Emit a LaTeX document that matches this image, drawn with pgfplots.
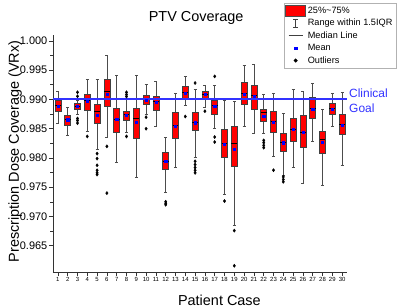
\documentclass[border=0pt]{standalone}
\usepackage{pgfplots}
\pgfplotsset{compat=1.18}
\usepgfplotslibrary{statistics}
\usepackage{fontspec}
\setmainfont{Liberation Sans}
\definecolor{goalblue}{RGB}{50,50,255}
\begin{document}
\begin{tikzpicture}
\begin{axis}[name=ax, scale only axis, width=294bp, height=237bp,
  xmin=0.5, xmax=30.5, ymin=0.9605, ymax=1.001,
  clip=false,
  axis lines=left, axis line style={-, black!80, line width=0.6pt},
  tick align=outside, major tick length=4bp, minor tick length=2.5bp,
  tick style={black!80, line width=0.5pt},
  xtick={1,...,30},
  ytick={0.965,0.970,0.975,0.980,0.985,0.990,0.995,1.000},
  minor y tick num=1,
  scaled y ticks=false,
  /pgf/number format/assume math mode=true,
  yticklabel style={/pgf/number format/fixed, /pgf/number format/fixed zerofill, /pgf/number format/precision=3, font=\fontsize{11}{13}\selectfont, inner sep=1.5bp},
  xticklabel style={font=\fontsize{6}{7}\selectfont, inner sep=1.5bp},
  title={PTV Coverage},
  title style={at={(axis description cs:0.487,1.046)}, anchor=center, font=\fontsize{14.5}{17}\selectfont},
  xlabel={Patient Case},
  xlabel style={at={(axis description cs:0.566,-0.118)}, anchor=center, font=\fontsize{14.5}{17}\selectfont},
  ylabel={Prescription Dose Coverage (VRx)},
  ylabel style={at={(axis description cs:-0.129,0.508)}, anchor=center, font=\fontsize{14.5}{17}\selectfont},
  boxplot/draw direction=y,
  boxplot/box extend=0.6, boxplot/whisker extend=0.3,
  boxplot/every box/.style={draw=black!75, fill=red, line width=0.6pt},
  boxplot/every whisker/.style={draw=black!70, line width=0.6pt},
  boxplot/every median/.style={draw=black, line width=0.8pt},
  bp/.style={black!75, mark=diamond*, mark size=1.6pt, mark options={draw=black, fill=black}, forget plot},
  legend style={at={(axis description cs:1.167,1.135)}, anchor=north east, draw=gray!60, fill=white, font=\fontsize{9.2}{10}\selectfont, inner sep=1.5bp, row sep=0.4bp},
  legend cell align=left,
]
\addlegendimage{legend image code/.code={\draw[fill=red, draw=black!70] (-2bp,-5bp) rectangle (18bp,6bp);}}
\addlegendentry{25\%\textasciitilde75\%}
\addlegendimage{legend image code/.code={\draw[black!75, line width=0.6pt] (8bp,-4bp)--(8bp,4bp) (5.5bp,-4bp)--(10.5bp,-4bp) (5.5bp,4bp)--(10.5bp,4bp);}}
\addlegendentry{Range within 1.5IQR}
\addlegendimage{legend image code/.code={\draw[black!75, line width=0.8pt] (1bp,0)--(15bp,0);}}
\addlegendentry{Median Line}
\addlegendimage{legend image code/.code={\fill[blue] (6.8bp,-1.2bp) rectangle (9.2bp,1.2bp);}}
\addlegendentry{Mean}
\addlegendimage{legend image code/.code={\fill[black] (8bp,-1.8bp)--(9.8bp,0)--(8bp,1.8bp)--(6.2bp,0)--cycle;}}
\addlegendentry{Outliers}

\addplot[bp, boxplot prepared={draw position=1, lower whisker=0.98594, lower quartile=0.98798, median=0.98895, upper quartile=0.98980, upper whisker=0.99138}] coordinates {};
\addplot[bp, boxplot prepared={draw position=2, lower whisker=0.98379, lower quartile=0.98560, median=0.98651, upper quartile=0.98730, upper whisker=0.98866}] coordinates {};
\addplot[bp, boxplot prepared={draw position=3, lower whisker=0.98753, lower quartile=0.98832, median=0.98883, upper quartile=0.98934, upper whisker=0.98980}] coordinates {(3,0.99121) (3,0.99053) (3,0.98673) (3,0.98639) (3,0.98594)};
\addplot[bp, boxplot prepared={draw position=4, lower whisker=0.98447, lower quartile=0.98821, median=0.98980, upper quartile=0.99093, upper whisker=0.99348}] coordinates {(4,0.98367)};
\addplot[bp, boxplot prepared={draw position=5, lower whisker=0.98146, lower quartile=0.98594, median=0.98787, upper quartile=0.98923, upper whisker=0.99348}] coordinates {(5,0.98073) (5,0.97988) (5,0.97874) (5,0.97789) (5,0.97744) (5,0.97715)};
\addplot[bp, boxplot prepared={draw position=6, lower whisker=0.98356, lower quartile=0.98889, median=0.99144, upper quartile=0.99337, upper whisker=0.99745}] coordinates {(6,0.98197) (6,0.97398)};
\addplot[bp, boxplot prepared={draw position=7, lower whisker=0.97919, lower quartile=0.98430, median=0.98662, upper quartile=0.98844, upper whisker=0.99405}] coordinates {};
\addplot[bp, boxplot prepared={draw position=8, lower whisker=0.98441, lower quartile=0.98639, median=0.98736, upper quartile=0.98798, upper whisker=0.98997}] coordinates {(8,0.99121) (8,0.99082) (8,0.99048) (8,0.98367)};
\addplot[bp, boxplot prepared={draw position=9, lower whisker=0.97676, lower quartile=0.98328, median=0.98673, upper quartile=0.98855, upper whisker=0.99416}] coordinates {};
\addplot[bp, boxplot prepared={draw position=10, lower whisker=0.98753, lower quartile=0.98917, median=0.99002, upper quartile=0.99065, upper whisker=0.99263}] coordinates {(10,0.98696) (10,0.98498)};
\addplot[bp, boxplot prepared={draw position=11, lower whisker=0.98537, lower quartile=0.98821, median=0.98968, upper quartile=0.99053, upper whisker=0.99308}] coordinates {};
\addplot[bp, boxplot prepared={draw position=12, lower whisker=0.97404, lower quartile=0.97806, median=0.97948, upper quartile=0.98090, upper whisker=0.98356}] coordinates {(12,0.97251) (12,0.97222) (12,0.97200)};
\addplot[bp, boxplot prepared={draw position=13, lower whisker=0.97834, lower quartile=0.98333, median=0.98554, upper quartile=0.98776, upper whisker=0.99110}] coordinates {};
\addplot[bp, boxplot prepared={draw position=14, lower whisker=0.98895, lower quartile=0.99008, median=0.99121, upper quartile=0.99223, upper whisker=0.99393}] coordinates {(14,0.98707)};
\addplot[bp, boxplot prepared={draw position=15, lower whisker=0.98005, lower quartile=0.98469, median=0.98611, upper quartile=0.98781, upper whisker=0.99167}] coordinates {(15,0.99280) (15,0.97942) (15,0.97885) (15,0.97834) (15,0.97789) (15,0.97744)};
\addplot[bp, boxplot prepared={draw position=16, lower whisker=0.98866, lower quartile=0.99019, median=0.99093, upper quartile=0.99133, upper whisker=0.99246}] coordinates {(16,0.98798)};
\addplot[bp, boxplot prepared={draw position=17, lower whisker=0.98498, lower quartile=0.98753, median=0.98895, upper quartile=0.98991, upper whisker=0.99246}] coordinates {(17,0.99393) (17,0.98356) (17,0.98271)};
\addplot[bp, boxplot prepared={draw position=18, lower whisker=0.97375, lower quartile=0.98016, median=0.98243, upper quartile=0.98486, upper whisker=0.98980}] coordinates {(18,0.97262)};
\addplot[bp, boxplot prepared={draw position=19, lower whisker=0.96842, lower quartile=0.97857, median=0.98243, upper quartile=0.98537, upper whisker=0.98968}] coordinates {(19,0.96757) (19,0.96156)};
\addplot[bp, boxplot prepared={draw position=20, lower whisker=0.98537, lower quartile=0.98912, median=0.99104, upper quartile=0.99291, upper whisker=0.99587}] coordinates {};
\addplot[bp, boxplot prepared={draw position=21, lower whisker=0.98424, lower quartile=0.98838, median=0.99076, upper quartile=0.99246, upper whisker=0.99592}] coordinates {};
\addplot[bp, boxplot prepared={draw position=22, lower whisker=0.98413, lower quartile=0.98628, median=0.98770, upper quartile=0.98838, upper whisker=0.99093}] coordinates {(22,0.98299) (22,0.98260) (22,0.98214) (22,0.98175)};
\addplot[bp, boxplot prepared={draw position=23, lower whisker=0.98027, lower quartile=0.98430, median=0.98628, upper quartile=0.98793, upper whisker=0.99104}] coordinates {(23,0.97789)};
\addplot[bp, boxplot prepared={draw position=24, lower whisker=0.97704, lower quartile=0.98118, median=0.98260, upper quartile=0.98413, upper whisker=0.98764}] coordinates {(24,0.97676) (24,0.97631) (24,0.97591)};
\addplot[bp, boxplot prepared={draw position=25, lower whisker=0.97846, lower quartile=0.98282, median=0.98486, upper quartile=0.98668, upper whisker=0.99167}] coordinates {};
\addplot[bp, boxplot prepared={draw position=26, lower whisker=0.97562, lower quartile=0.98186, median=0.98441, upper quartile=0.98724, upper whisker=0.99138}] coordinates {};
\addplot[bp, boxplot prepared={draw position=27, lower whisker=0.98288, lower quartile=0.98679, median=0.98838, upper quartile=0.99036, upper whisker=0.99280}] coordinates {};
\addplot[bp, boxplot prepared={draw position=28, lower whisker=0.97529, lower quartile=0.98084, median=0.98311, upper quartile=0.98458, upper whisker=0.98827}] coordinates {};
\addplot[bp, boxplot prepared={draw position=29, lower whisker=0.98543, lower quartile=0.98753, median=0.98849, upper quartile=0.98929, upper whisker=0.99110}] coordinates {};
\addplot[bp, boxplot prepared={draw position=30, lower whisker=0.97874, lower quartile=0.98396, median=0.98571, upper quartile=0.98753, upper whisker=0.99121}] coordinates {};

\addplot[color=goalblue, line width=2pt, mark=none, sharp plot, forget plot] coordinates {(0.5,0.990) (30.5,0.990)};

\addplot[only marks, mark=square*, mark size=1.1pt, blue, forget plot] coordinates {
(1,0.98890) (2,0.98651) (3,0.98883) (4,0.98963) (5,0.98724) (6,0.99093) (7,0.98662) (8,0.98724) (9,0.98605) (10,0.98980)
(11,0.98951) (12,0.97948) (13,0.98543) (14,0.99110) (15,0.98600) (16,0.99082) (17,0.98878) (18,0.98231) (19,0.98146) (20,0.99093)
(21,0.99053) (22,0.98713) (23,0.98611) (24,0.98260) (25,0.98486) (26,0.98441) (27,0.98838) (28,0.98271) (29,0.98838) (30,0.98554)};

\node[goalblue, anchor=west, align=left, inner sep=2bp, font=\fontsize{12}{15}\selectfont] at (axis cs:30.5,0.9897) {Clinical\\Goal};
\end{axis}
\pgfresetboundingbox
\path ([xshift=-53bp, yshift=-35bp]ax.south west) rectangle ([xshift=53bp, yshift=35bp]ax.north east);
\end{tikzpicture}
\end{document}
